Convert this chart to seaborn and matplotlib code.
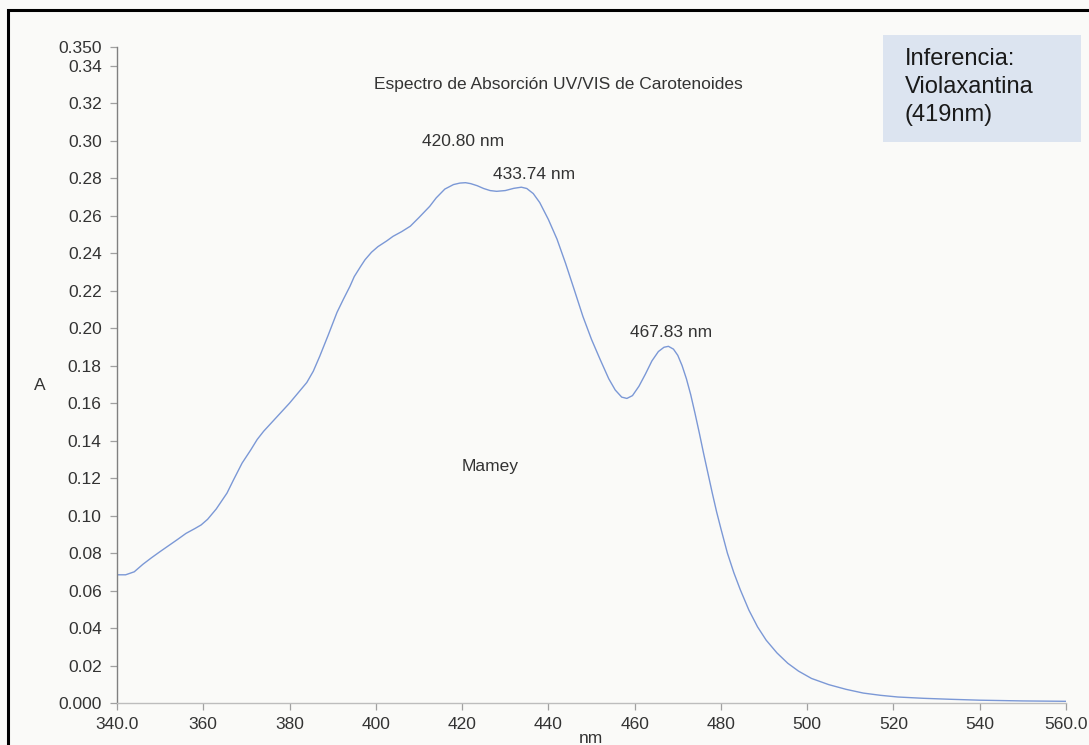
import matplotlib
matplotlib.use("Agg")
import matplotlib.pyplot as plt
from matplotlib.patches import Rectangle
import pandas as pd
import seaborn as sns

# UV/VIS absorption spectrum of the carotenoid extract (Mamey)
wavelength_nm = [340, 342, 344, 346, 348, 350, 352, 354, 356, 358, 359.5, 361, 363,
                 365.5, 367, 369, 371, 372.5, 374, 376, 378, 380, 382, 384, 385.5,
                 387, 389, 391, 392.5, 394, 395, 396.5, 397.5, 399, 400.5, 402.5,
                 404, 406, 408, 410, 412.5, 414, 416, 418, 419.5, 420.80, 422,
                 423.5, 425, 426.5, 428, 430, 432, 433.74, 435, 436.5, 438, 440,
                 442, 444, 446, 448, 450, 452, 454, 455.5, 457, 458.2, 459.5, 461,
                 462.5, 464, 465.5, 466.8, 467.83, 469, 470, 471, 472, 473, 474,
                 475, 476, 477, 478, 479, 480, 481.5, 483, 484.5, 486.5, 488.5,
                 490.5, 493, 495.5, 498, 501, 505, 509, 513, 517, 521, 527, 533,
                 540, 550, 560]
absorbance = [0.0684, 0.0684, 0.0700, 0.0740, 0.0775, 0.0808, 0.0840, 0.0872, 0.0905,
              0.0930, 0.0950, 0.0980, 0.1035, 0.1120, 0.1190, 0.1280, 0.1350, 0.1406,
              0.1450, 0.1500, 0.1550, 0.1600, 0.1655, 0.1710, 0.1770, 0.1850, 0.1965,
              0.2084, 0.2155, 0.2223, 0.2275, 0.2330, 0.2365, 0.2405, 0.2435, 0.2465,
              0.2490, 0.2515, 0.2544, 0.2590, 0.2650, 0.2695, 0.2742, 0.2766, 0.2774,
              0.2776, 0.2771, 0.2760, 0.2745, 0.2734, 0.2730, 0.2734, 0.2746, 0.2752,
              0.2745, 0.2718, 0.2670, 0.2580, 0.2475, 0.2345, 0.2205, 0.2063, 0.1940,
              0.1833, 0.1730, 0.1670, 0.1632, 0.1625, 0.1640, 0.1690, 0.1755, 0.1825,
              0.1875, 0.1898, 0.1903, 0.1888, 0.1855, 0.1800, 0.1730, 0.1645, 0.1545,
              0.1440, 0.1330, 0.1225, 0.1120, 0.1020, 0.0930, 0.0800, 0.0695, 0.0604,
              0.0495, 0.0406, 0.0335, 0.0267, 0.0212, 0.0170, 0.0131, 0.0098, 0.0073,
              0.0053, 0.0041, 0.0032, 0.0025, 0.0020, 0.0015, 0.0011, 0.0009]
peak_nm = [420.80, 433.74, 467.83]
peak_offsets_pt = [(-2, 30), (9, 9), (2, 10)]

x_ticks = [340, 360, 380, 400, 420, 440, 460, 480, 500, 520, 540, 560]
x_tick_labels = ["340.0", "360", "380", "400", "420", "440", "460", "480",
                 "500", "520", "540", "560.0"]
y_ticks = [0.0, 0.02, 0.04, 0.06, 0.08, 0.10, 0.12, 0.14, 0.16, 0.18, 0.20,
           0.22, 0.24, 0.26, 0.28, 0.30, 0.32, 0.34, 0.35]
y_tick_labels = ["0.000", "0.02", "0.04", "0.06", "0.08", "0.10", "0.12", "0.14",
                 "0.16", "0.18", "0.20", "0.22", "0.24", "0.26", "0.28", "0.30",
                 "0.32", "0.34", "0.350"]

sns.set_theme(style="ticks")
plt.rcParams["font.family"] = ["Liberation Sans", "DejaVu Sans"]

W, H = 1089, 745
BG = "#fafaf8"
TXT = "#333333"
FS = 12.5


def fx(x):
    return x / W


def fy(y):
    return 1 - y / H


fig = plt.figure(figsize=(W / 100, H / 100), dpi=100, facecolor=BG)
ax = fig.add_axes([fx(117), fy(703), (1066 - 117) / W, (703 - 47) / H])
ax.set_facecolor(BG)

df = pd.DataFrame({"nm": wavelength_nm, "A": absorbance})
sns.lineplot(data=df, x="nm", y="A", ax=ax, color="#7b98d6", linewidth=1.0)

ax.set_xlim(340, 560)
ax.set_ylim(0, 0.35)
ax.set_xticks(x_ticks)
ax.set_xticklabels(x_tick_labels)
ax.set_yticks(y_ticks)
ax.set_yticklabels(y_tick_labels)
ax.set_xlabel("")
ax.set_ylabel("")

for side in ("top", "right"):
    ax.spines[side].set_visible(False)
ax.spines["left"].set_color("#808080")
ax.spines["bottom"].set_color("#bdbdbd")
ax.spines["left"].set_linewidth(1.0)
ax.spines["bottom"].set_linewidth(1.0)
ax.tick_params(axis="both", direction="out", length=5, width=0.9,
               color="#a0a0a0", labelsize=FS, labelcolor=TXT)
ax.tick_params(axis="y", pad=6)
ax.tick_params(axis="x", pad=5)

# peak labels placed from the spectrum's own values
for p, off in zip(peak_nm, peak_offsets_pt):
    a = df.loc[df["nm"] == p, "A"].iloc[0]
    ax.annotate(f"{p:.2f} nm", xy=(p, a), xytext=off, textcoords="offset points",
                ha="center", va="center", fontsize=FS, color=TXT)

fig.text(fx(558), fy(85), "Espectro de Absorción UV/VIS de Carotenoides",
         ha="center", va="center", fontsize=FS, color=TXT)
fig.text(fx(490), fy(466), "Mamey", ha="center", va="center", fontsize=FS, color=TXT)
fig.text(fx(40), fy(386), "A", ha="center", va="center", fontsize=FS, color=TXT)
fig.text(fx(591), fy(731), "nm", ha="center", va="top", fontsize=FS, color=TXT)

# inference note
fig.patches.append(Rectangle((fx(883), fy(142)), (1081 - 883) / W, (142 - 35) / H,
                             transform=fig.transFigure, facecolor="#dce4f0",
                             edgecolor="none", zorder=1))
fig.text(fx(905), fy(87), "Inferencia:\nViolaxantina\n(419nm)", ha="left",
         va="center", fontsize=17, color="#1a1a1a", linespacing=1.36, zorder=2)

# page frame
fig.patches.append(Rectangle((fx(8), -0.05), 1.2, fy(10) + 0.05,
                             transform=fig.transFigure, fill=False,
                             edgecolor="black", linewidth=2.2, zorder=3))

fig.savefig("out.png", dpi=100, facecolor=BG)
